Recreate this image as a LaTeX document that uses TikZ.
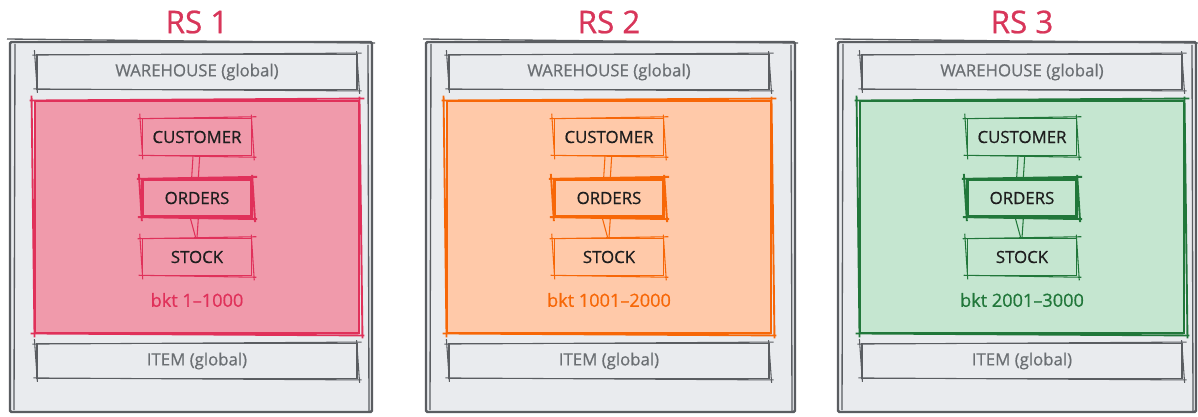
\documentclass[tikz,border=0pt]{standalone}
\usepackage{fontspec}
\setmainfont{Open Sans}[FakeBold=0.7]
\definecolor{frame}{HTML}{5A5D61}
\definecolor{panelfill}{HTML}{E9EBEE}
\definecolor{mutedtext}{HTML}{6B6F73}
\definecolor{inktext}{HTML}{1E1E1E}
\definecolor{titlered}{HTML}{D8365A}
\definecolor{redline}{HTML}{E0315A}
\definecolor{redfill}{HTML}{F09AAB}
\definecolor{orangeline}{HTML}{F76707}
\definecolor{orangefill}{HTML}{FFC9A9}
\definecolor{greenline}{HTML}{21773A}
\definecolor{greenfill}{HTML}{C5E6D0}

% hand-drawn second pass around a node: four strokes with slight overshoot
\newcommand\roughpass[2]{%
  \draw[#2] ([shift={(-4,1)}]#1.north west) -- ([shift={(4,-1)}]#1.north east);
  \draw[#2] ([shift={(-1,-3)}]#1.north east) -- ([shift={(2,4)}]#1.south east);
  \draw[#2] ([shift={(4,1)}]#1.south east) -- ([shift={(-3,-1)}]#1.south west);
  \draw[#2] ([shift={(1,3)}]#1.south west) -- ([shift={(-2,-4)}]#1.north west);
}

\tikzset{
  panel/.style={draw=frame, fill=panelfill, line width=1.8pt, rounded corners=1pt},
  globalbar/.style={draw=frame, line width=0.9pt, minimum width=240pt, minimum height=26pt,
    inner sep=0pt, text=mutedtext, font=\fontsize{12.6}{14}\selectfont},
  table/.style={draw=#1, line width=0.9pt, minimum width=82pt, minimum height=28pt,
    inner sep=0pt, text=inktext, font=\fontsize{12.6}{14}\selectfont},
  heavytable/.style={table=#1, line width=2.2pt},
  title/.style={text=titlered, font=\fontsize{23.5}{26}\selectfont},
  bucket/.style={font=\fontsize{13.6}{16}\selectfont},
}

\begin{document}
\begin{tikzpicture}[x=0.75pt, y=-0.75pt]
\useasboundingbox (0,0) rectangle (1198,417);
\fill[white] (0,0) rectangle (1198,417);

\foreach \i/\cx/\L/\R/\ln/\fl/\lab in {
  1/197/10/372/redline/redfill/{bkt 1–1000},
  2/609/426/795/orangeline/orangefill/{bkt 1001–2000},
  3/1022/838/1196/greenline/greenfill/{bkt 2001–3000}} {
  % replica-set frame
  \node[title] (t\i) at (\cx,22) {RS \i};
  \draw[panel] (\L,42) rectangle (\R,412);
  \draw[frame, line width=1pt] (\L-3,39) -- (\R+3,43);
  \draw[frame, line width=1pt] (\L+5,44) -- (\L+4,410);
  \draw[frame, line width=1pt] (\R-4,45) -- (\R-3,411);

  % global tables
  \node[globalbar] (w\i) at (\cx,72) {WAREHOUSE (global)};
  \roughpass{w\i}{frame, line width=0.8pt}
  \node[globalbar] (it\i) at (\cx,361) {ITEM (global)};
  \roughpass{it\i}{frame, line width=0.8pt}

  % partitioned bucket range
  \node[draw=\ln, fill=\fl, line width=2.2pt, minimum width=243pt, minimum height=174pt,
        inner sep=0pt] (b\i) at (\cx,217) {};
  \roughpass{b\i}{\ln, line width=1.4pt}

  \node[table=\ln] (c\i) at (\cx,137) {CUSTOMER};
  \roughpass{c\i}{\ln, line width=0.8pt}
  \node[heavytable=\ln] (o\i) at (\cx,198) {ORDERS};
  \roughpass{o\i}{\ln, line width=1.4pt}
  \node[table=\ln] (s\i) at (\cx,257) {STOCK};
  \roughpass{s\i}{\ln, line width=0.8pt}

  \draw[\ln, line width=0.8pt] ([xshift=-3]c\i.south) -- ([xshift=-4]o\i.north);
  \draw[\ln, line width=0.8pt] ([xshift=2]c\i.south) -- ([xshift=1]o\i.north);
  \draw[\ln, line width=0.8pt] ([xshift=-5]o\i.south) -- ([xshift=-1]s\i.north);
  \draw[\ln, line width=0.8pt] ([xshift=1]o\i.south) -- ([xshift=0]s\i.north);

  \node[bucket, text=\ln] (k\i) at (\cx,300) {\lab};
}
\end{tikzpicture}
\end{document}
